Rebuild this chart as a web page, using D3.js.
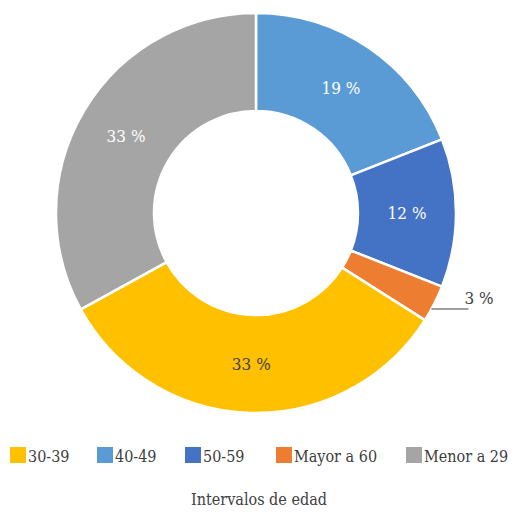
<!DOCTYPE html>
<html>
<head>
<meta charset="utf-8">
<script src="https://cdn.jsdelivr.net/npm/d3@7"></script>
<style>
  body { margin: 0; background: #fff; }
  svg text { font-stretch: condensed; }
</style>
</head>
<body>
<script>
// categories in legend order
var categories = ["30-39", "40-49", "50-59", "Mayor a 60", "Menor a 29"];
var values = [33, 19, 12, 3, 33];
var colors = ["#FFC000", "#5B9BD5", "#4472C4", "#ED7D31", "#A5A5A5"];
// order the slices appear going clockwise from 12 o'clock
var drawOrder = ["40-49", "50-59", "Mayor a 60", "30-39", "Menor a 29"];
var labelColors = { "30-39": "#404040", "40-49": "#fff", "50-59": "#fff", "Mayor a 60": "#404040", "Menor a 29": "#fff" };

var font = "'DejaVu Serif Condensed', 'DejaVu Serif', serif";
var fs = 16;
var width = 518, height = 514;
var cx = 256, cy = 213, outerR = 200, innerR = 102;

var data = drawOrder.map(function(c) {
  var i = categories.indexOf(c);
  return { cat: c, value: values[i], color: colors[i] };
});

var svg = d3.select("body").append("svg")
  .attr("width", width)
  .attr("height", height)
  .style("font-family", font);

var pie = d3.pie().sort(null).value(function(d) { return d.value; });
var arc = d3.arc().innerRadius(innerR).outerRadius(outerR);
var labelArc = d3.arc().innerRadius(151).outerRadius(151);

var g = svg.append("g").attr("transform", "translate(" + cx + "," + cy + ")");

var arcs = pie(data);

g.selectAll("path")
  .data(arcs)
  .enter().append("path")
    .attr("d", arc)
    .attr("fill", function(d) { return d.data.color; })
    .attr("stroke", "#fff")
    .attr("stroke-width", 2.5);

// labels
arcs.forEach(function(d) {
  if (d.data.cat == "Mayor a 60") {
    // small slice: label outside with a flat leader line
    var ly = 96;
    var lx = Math.sqrt(outerR * outerR - ly * ly);
    g.append("line")
      .attr("x1", lx).attr("y1", ly)
      .attr("x2", lx + 37).attr("y2", ly)
      .attr("stroke", "#7f7f7f")
      .attr("stroke-width", 1.3);
    g.append("text")
      .attr("x", lx + 33).attr("y", ly - 5)
      .attr("font-size", fs + 1)
      .attr("fill", "#404040")
      .text(d.data.value + " %");
    return;
  }
  var c = labelArc.centroid(d);
  g.append("text")
    .attr("x", c[0]).attr("y", c[1])
    .attr("dy", "0.35em")
    .attr("text-anchor", "middle")
    .attr("font-size", fs + 1)
    .attr("fill", labelColors[d.data.cat])
    .text(d.data.value + " %");
});

// legend
var legendX = [10, 97, 185, 276, 406];
var legend = svg.append("g");
categories.forEach(function(c, i) {
  legend.append("rect")
    .attr("x", legendX[i]).attr("y", 447)
    .attr("width", 16).attr("height", 16)
    .attr("fill", colors[i]);
  legend.append("text")
    .attr("x", legendX[i] + 18).attr("y", 462)
    .attr("font-size", fs)
    .attr("fill", "#404040")
    .text(c);
});

svg.append("text")
  .attr("x", 259).attr("y", 505)
  .attr("text-anchor", "middle")
  .attr("font-size", fs)
  .attr("fill", "#404040")
  .text("Intervalos de edad");
</script>
</body>
</html>
